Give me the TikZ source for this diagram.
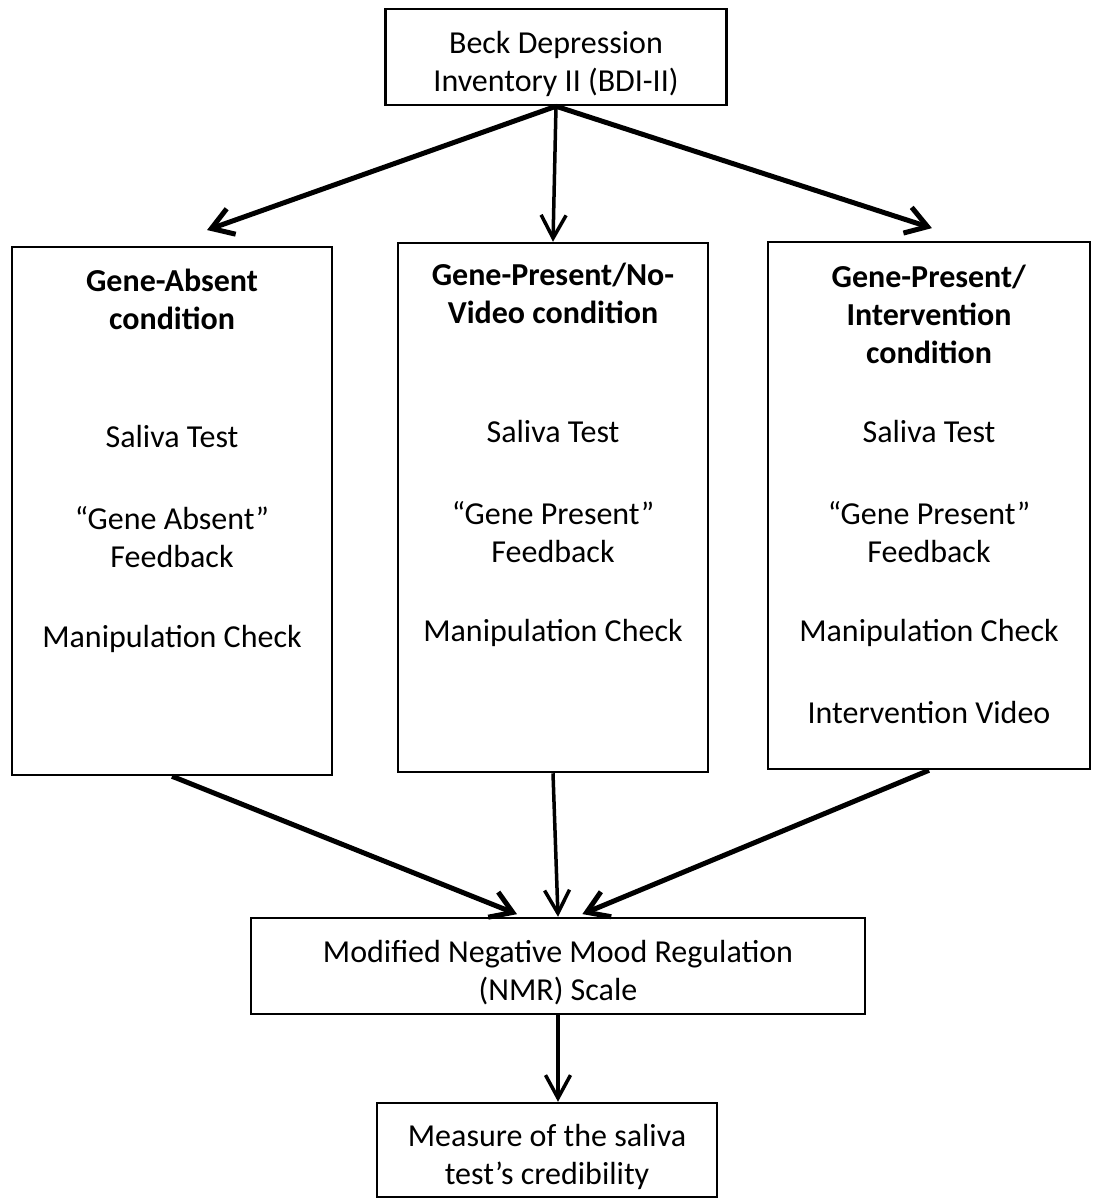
\documentclass[tikz,border=0pt]{standalone}
\usepackage{fontspec}
\setmainfont{Carlito}
\usetikzlibrary{positioning, arrows.meta}

\newcommand{\lowstrut}{\rule{0pt}{36pt}}

\begin{document}
\begin{tikzpicture}[x=1pt, y=-1pt,
        font=\fontsize{32}{38}\selectfont,
        box/.style={draw, line width=2.5pt, align=center, inner sep=0pt},
        condtext/.style={align=center, inner sep=0pt},
        thick arrow/.style={-{Straight Barb[length=21pt, width=27pt]}, line width=5pt},
        thin arrow/.style={-{Straight Barb[length=23pt, width=25pt]}, line width=3.5pt}]
            \useasboundingbox (0, 0) rectangle (1092, 1199);

            \node [box, minimum width=341pt, minimum height=96pt] (BDI) at (556, 57) {\lowstrut Beck Depression\\Inventory II (BDI-II)};

            \node [box, minimum width=320pt, minimum height=528pt] (absent) at (172, 511) {};
            \node [box, minimum width=310pt, minimum height=529pt] (novideo) at (553, 507.5) {};
            \node [box, minimum width=322pt, minimum height=527pt] (inter) at (929, 505.5) {};

            \node [condtext, below=23pt of absent.north] (absentlist) {\textbf{Gene-Absent}\\\textbf{condition}\\[80pt]Saliva Test\\[44pt]“Gene Absent”\\Feedback\\[42pt]Manipulation Check};
            \node [condtext, below=21pt of novideo.north] (novideolist) {\textbf{Gene-Present/No-}\\\textbf{Video condition}\\[81pt]Saliva Test\\[44pt]“Gene Present”\\Feedback\\[41pt]Manipulation Check};
            \node [condtext, below=24pt of inter.north] (interlist) {\textbf{Gene-Present/}\\\textbf{Intervention}\\\textbf{condition}\\[41pt]Saliva Test\\[44pt]“Gene Present”\\Feedback\\[41pt]Manipulation Check\\[44pt]Intervention Video};

            \node [box, minimum width=614pt, minimum height=96pt] (NMR) at (558, 966) {\lowstrut Modified Negative Mood Regulation\\(NMR) Scale};
            \node [box, minimum width=340pt, minimum height=94pt] (measure) at (547, 1150) {\lowstrut Measure of the saliva\\test’s credibility};

            \draw [thick arrow, shorten >=47pt] (BDI.south) -- (absent.92);
            \draw [thin arrow] (BDI.south) -- (novideo.north);
            \draw [thick arrow, shorten >=41pt] (BDI.south) -- (inter.81);

            \draw [thick arrow, shorten >=7pt] (absent.south) -- (NMR.125);
            \draw [thin arrow] (novideo.south) -- (NMR.north);
            \draw [thick arrow, shorten >=7pt] (inter.south) -- (NMR.70);

            \draw [thin arrow] (NMR.south) -- (NMR.south |- measure.north);
        \end{tikzpicture}
\end{document}
